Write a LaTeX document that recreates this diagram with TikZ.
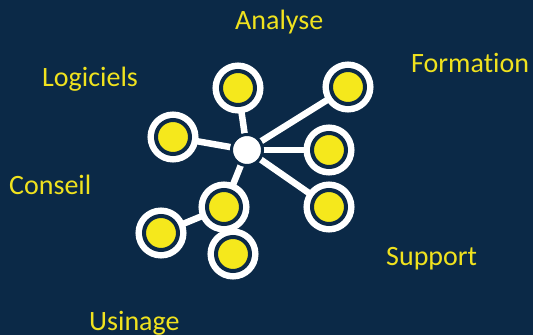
\documentclass[tikz,border=0pt]{standalone}
\usepackage{fontspec}
\setmainfont[Ligatures={NoCommon}]{Carlito}
\usetikzlibrary{backgrounds}
\definecolor{bgnavy}{RGB}{11,41,71}
\definecolor{dotyellow}{RGB}{245,232,28}
\definecolor{txtyellow}{RGB}{240,226,30}
\tikzset{
  sat/.style={circle, inner sep=0pt, outer sep=0pt, minimum size=34pt,
    fill=dotyellow, draw=bgnavy, line width=4pt,
    preaction={draw=white, line width=17pt}},
  hubnode/.style={circle, inner sep=0pt, outer sep=0pt, minimum size=31pt,
    fill=white, draw=bgnavy, line width=3pt},
  conn/.style={draw=bgnavy, double=white, line width=3pt, double distance=6.5pt},
  lbl/.style={anchor=base west, inner sep=0pt, text=txtyellow,
    font=\fontsize{28}{32}\selectfont}
}
\begin{document}
\begin{tikzpicture}[x=1pt,y=-1pt]
\useasboundingbox (0,0) rectangle (533,335);
\begin{pgfonlayer}{background}
\fill[bgnavy] (0,0) rectangle (533,335);
\end{pgfonlayer}
% nodes
\node[hubnode] (hub) at (247,150) {};
\node[sat] (n1) at (238,88) {};
\node[sat] (n2) at (348,87) {};
\node[sat] (n3) at (173,137) {};
\node[sat] (n4) at (329,150) {};
\node[sat] (n5) at (329,207) {};
\node[sat] (n6) at (224,207) {};
\node[sat] (n7) at (161,233) {};
\node[sat] (n8) at (233,254) {};
% connectors
\begin{pgfonlayer}{background}
\draw[conn] (hub.center) -- (n1.center);
\draw[conn] (hub.center) -- (n3.center);
\draw[conn] (hub.center) -- (n6.center);
\draw[conn] (hub.center) -- (n5.center);
\draw[conn] (hub.center) -- (n4.center);
\draw[conn] (hub.center) -- (n2.center);
\draw[conn] (n6.center) -- (n7.center);
\draw[conn] (n6.center) -- (n8.center);
\end{pgfonlayer}
% labels
\node[lbl] (tAnalyse) at (235,29) {Analyse};
\node[lbl] (tFormation) at (411,72) {Formation};
\node[lbl] (tLogiciels) at (42,86) {Logiciels};
\node[lbl] (tConseil) at (9,194) {Conseil};
\node[lbl] (tSupport) at (386,265) {Support};
\node[lbl] (tUsinage) at (89,330) {Usinage};
\end{tikzpicture}
\end{document}
